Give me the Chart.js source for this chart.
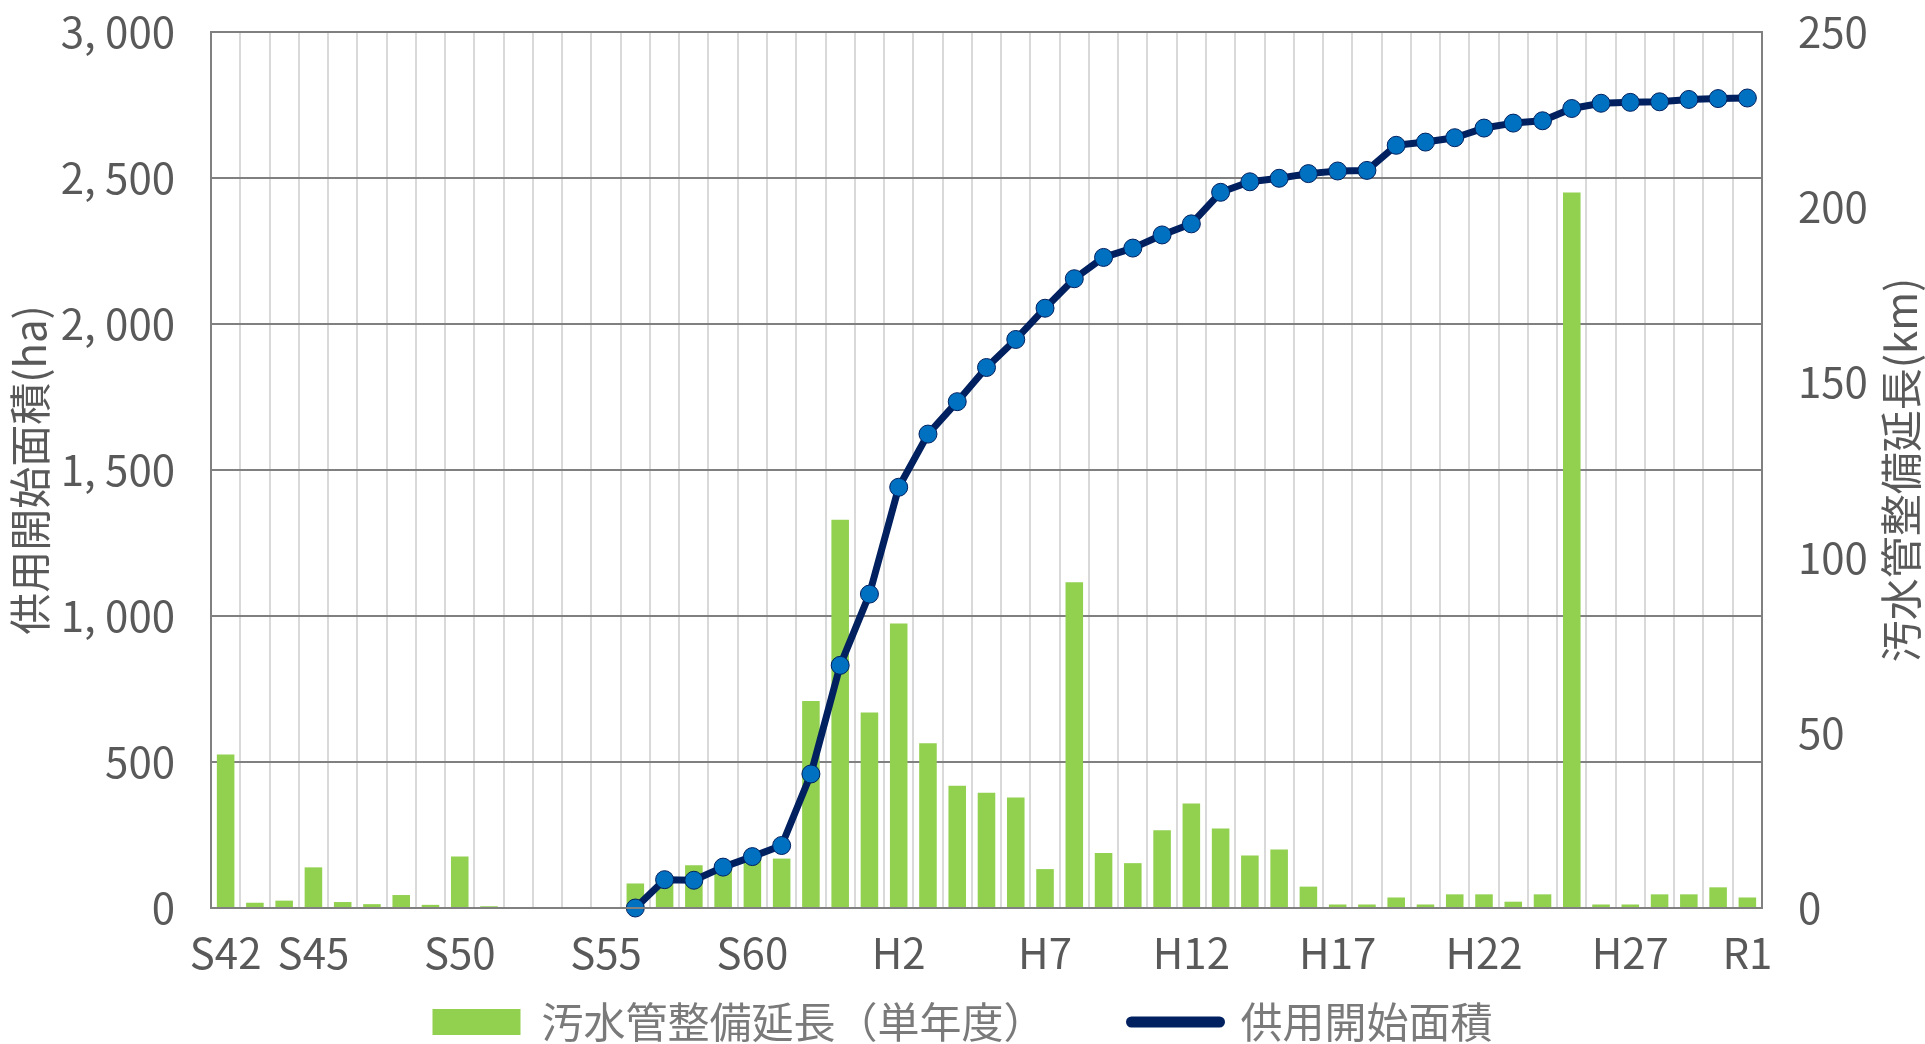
<!DOCTYPE html>
<html lang="ja">
<head>
<meta charset="utf-8">
<script src="https://cdn.jsdelivr.net/npm/chart.js@4/dist/chart.umd.min.js"></script>
<style>
  html, body { margin: 0; padding: 0; background: #fff; }
</style>
</head>
<body>
<canvas id="myChart" width="1925" height="1044"></canvas>
<script>
// fiscal years S42 .. R1
const years = ['S42','S43','S44','S45','S46','S47','S48','S49','S50','S51','S52','S53','S54','S55',
  'S56','S57','S58','S59','S60','S61','S62','S63',
  'H1','H2','H3','H4','H5','H6','H7','H8','H9','H10','H11','H12','H13','H14','H15',
  'H16','H17','H18','H19','H20','H21','H22','H23','H24','H25','H26','H27','H28','H29','H30','R1'];

// only these years get a label on the x axis
const shownTicks = ['S42','S45','S50','S55','S60','H2','H7','H12','H17','H22','H27','R1'];

// 汚水管整備延長 (km, single year) - right axis
const pipeKm = [43.8, 1.5, 2.1, 11.6, 1.7, 1.1, 3.7, 0.9, 14.7, 0.5, 0, 0, 0, 0,
  7.0, 8.0, 12.2, 11.0, 14.0, 14.1, 59.1, 110.8,
  55.8, 81.2, 47.0, 34.9, 32.9, 31.5, 11.1, 93.0, 15.7, 12.8, 22.2, 29.8, 22.7, 15.0, 16.7,
  6.1, 1.0, 1.0, 3.0, 1.0, 3.9, 3.9, 1.8, 3.9, 204.2, 1.0, 1.0, 3.9, 3.9, 5.9, 3.0];

// 供用開始面積 (ha, cumulative) - left axis
const areaHa = [null, null, null, null, null, null, null, null, null, null, null, null, null, null,
  0, 97, 95, 140, 176, 214, 459, 831,
  1075, 1441, 1623, 1734, 1851, 1947, 2054, 2155, 2228, 2260, 2305, 2343, 2451, 2487, 2499,
  2515, 2524, 2526, 2612, 2623, 2638, 2671, 2688, 2696, 2738, 2756, 2759, 2761, 2769, 2772, 2774];

const haTicks = [0, 500, 1000, 1500, 2000, 2500, 3000];
const kmTicks = [0, 50, 100, 150, 200, 250];

const barLabel = '汚水管整備延長（単年度）';
const lineLabel = '供用開始面積';
const haTitle = '供用開始面積(ha)';
const kmTitle = '汚水管整備延長(km)';

const numFont = "'Noto Sans CJK JP', sans-serif";
const jpFont = "'Noto Sans CJK JP', sans-serif";
const textGray = '#595959';

// Chart.js only rotates right-hand titles top-to-bottom, the original reads bottom-to-top
const rightTitle = {
  id: 'rightTitle',
  afterDraw(chart) {
    const s = chart.scales.yKm;
    const ctx = chart.ctx;
    const area = chart.chartArea;
    ctx.save();
    ctx.translate(s.right - 24, (area.top + area.bottom) / 2);
    ctx.rotate(-Math.PI / 2);
    ctx.font = '42px ' + jpFont;
    ctx.fillStyle = textGray;
    ctx.textAlign = 'center';
    ctx.textBaseline = 'middle';
    ctx.fillText(kmTitle, 0, 0);
    ctx.restore();
  }
};

// keep the plot box where the original has it
function fixY(width) {
  return function(s) {
    s.width = width;
    s.paddingTop = 0;
    s.paddingBottom = 0;
  };
}

var myChart = new Chart(document.getElementById('myChart'), {
  data: {
    labels: years,
    datasets: [{
      type: 'bar',
      label: barLabel,
      data: pipeKm,
      yAxisID: 'yKm',
      backgroundColor: '#92d050',
      barPercentage: 0.6,
      categoryPercentage: 1,
      order: 1
    }, {
      type: 'line',
      label: lineLabel,
      data: areaHa,
      yAxisID: 'yHa',
      borderColor: '#002060',
      borderWidth: 7,
      borderJoinStyle: 'round',
      pointRadius: 9,
      pointBackgroundColor: '#0070c0',
      pointBorderColor: '#002060',
      pointBorderWidth: 1,
      tension: 0,
      clip: false,
      order: 0
    }]
  },
  options: {
    responsive: false,
    devicePixelRatio: 1,
    animation: false,
    layout: { padding: { top: 32, left: 0, right: 0, bottom: 0 } },
    plugins: {
      tooltip: { enabled: false },
      legend: {
        position: 'bottom',
        maxHeight: 45,
        labels: {
          usePointStyle: true,
          pointStyleWidth: 88,
          boxHeight: 26,
          padding: 2,
          color: '#7a7a7a',
          font: { family: jpFont, size: 42 },
          sort: (a, b) => a.datasetIndex - b.datasetIndex,
          generateLabels(chart) {
            const items = Chart.defaults.plugins.legend.labels.generateLabels(chart);
            items.forEach(it => {
              if (it.datasetIndex === 0) {
                it.pointStyle = 'rect';
                it.lineWidth = 0;
                it.text = it.text + '\u3000\u3000\u2002'; // gap before the second item
              } else {
                it.pointStyle = 'line';
                it.lineWidth = 11;
                it.strokeStyle = '#002060';
                it.lineCap = 'round';
              }
            });
            return items;
          }
        }
      }
    },
    scales: {
      x: {
        grid: { offset: true, color: '#d9d9d9', lineWidth: 2, drawTicks: false },
        border: { color: '#808080', width: 2, z: 1 },
        ticks: {
          autoSkip: false,
          maxRotation: 0,
          padding: 20,
          color: textGray,
          font: { family: numFont, size: 42 },
          callback: function(v, i) { return shownTicks.includes(years[i]) ? years[i] : ''; }
        },
        afterFit: function(s) { s.height = 91; }
      },
      yHa: {
        position: 'left',
        min: 0,
        max: 3000,
        afterBuildTicks: function(s) { s.ticks = haTicks.map(v => ({ value: v })); },
        grid: { color: '#808080', lineWidth: 2, drawTicks: false },
        border: { color: '#808080', width: 2, z: 1 },
        ticks: {
          padding: 36,
          color: textGray,
          font: { family: numFont, size: 42 },
          callback: function(v) { return v.toLocaleString('en-US').replace(',', ', '); }
        },
        title: {
          display: true,
          text: haTitle,
          color: textGray,
          font: { family: jpFont, size: 42 },
          padding: { top: 5, bottom: 0 }
        },
        afterFit: fixY(211)
      },
      yKm: {
        position: 'right',
        min: 0,
        max: 250,
        afterBuildTicks: function(s) { s.ticks = kmTicks.map(v => ({ value: v })); },
        grid: { drawOnChartArea: false, drawTicks: false },
        border: { color: '#808080', width: 2, z: 1 },
        ticks: {
          padding: 36,
          color: textGray,
          font: { family: numFont, size: 42 }
        },
        afterFit: fixY(163)
      }
    }
  },
  plugins: [rightTitle]
});
</script>
</body>
</html>
